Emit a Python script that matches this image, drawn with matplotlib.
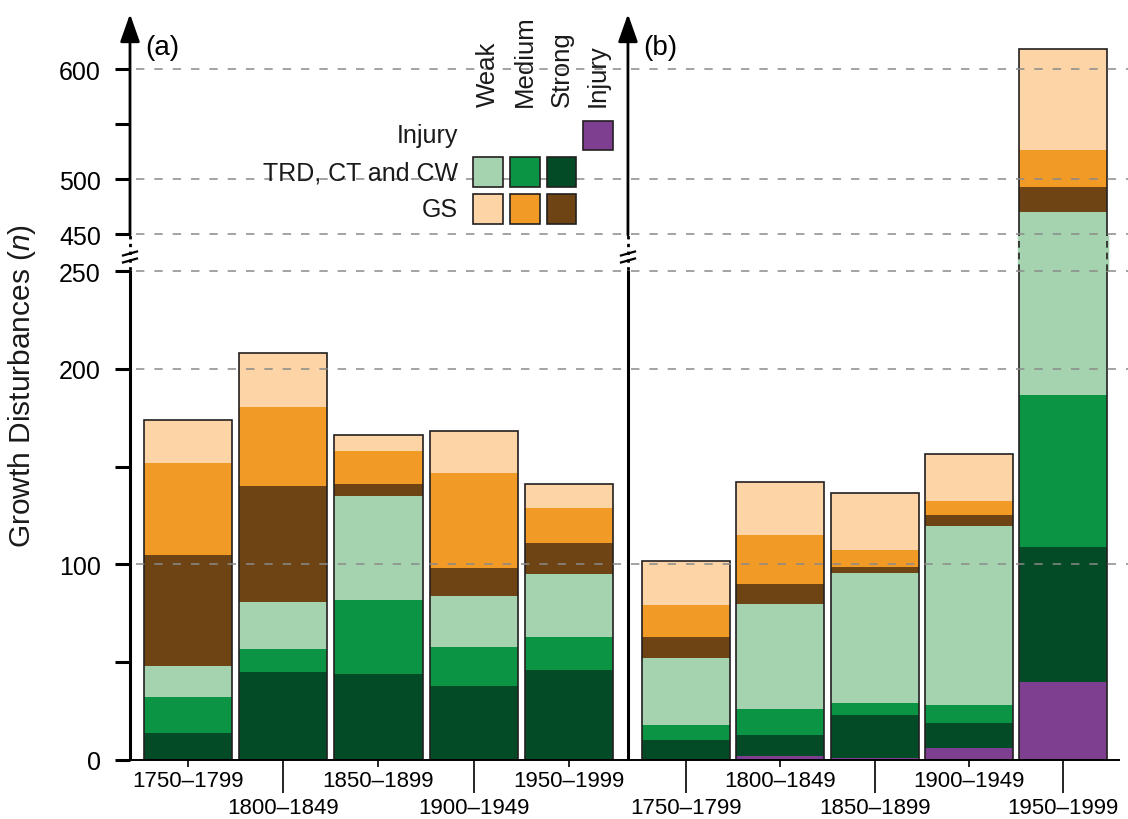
import numpy as np
import matplotlib
matplotlib.use('Agg')
import matplotlib.pyplot as plt
from matplotlib.patches import Rectangle

plt.rcParams['font.family'] = ['Liberation Sans', 'DejaVu Sans']
plt.rcParams['mathtext.fontset'] = 'custom'
plt.rcParams['mathtext.it'] = 'Liberation Sans:italic'
plt.rcParams['mathtext.rm'] = 'Liberation Sans'

# ---------------- data ----------------
periods = ['1750–1799', '1800–1849', '1850–1899', '1900–1949', '1950–1999']

# panel (a)
injury_a     = [0, 0, 0, 0, 0]
strong_trd_a = [14, 45, 44, 38, 46]
medium_trd_a = [18, 12, 38, 20, 17]
weak_trd_a   = [16, 24, 53, 26, 32]
strong_gs_a  = [57, 59, 6, 14, 16]
medium_gs_a  = [47, 40.5, 17, 49, 18]
weak_gs_a    = [22, 27.5, 8, 21, 12]

# panel (b)
injury_b     = [0, 2, 1, 6, 40]
strong_trd_b = [10, 11, 22, 13, 69]
medium_trd_b = [8, 13, 6, 9, 77.5]
weak_trd_b   = [34, 54, 66.5, 91.5, 284]
strong_gs_b  = [11, 10, 3, 6, 22]
medium_gs_b  = [16, 25, 9, 7, 33.5]
weak_gs_b    = [23, 27, 29, 24, 92.5]

col_injury = '#7e3f91'
col_trd = ['#a5d3b0', '#0a9443', '#034a27']   # weak, medium, strong
col_gs = ['#fcd4a6', '#f29a26', '#6e4414']    # weak, medium, strong
edge_col = '#231f20'
grid_col = '#8a8a8a'

yticks_major = [0, 100, 200, 250, 450, 500, 600]
yticks_minor = [50, 150, 550]

# ---------------- broken-axis scale ----------------
GAP = 18.9
K = 0.5627
V = [-1000.0, 0.0, 250.0, 450.0, 3000.0]
T = [-1000.0, 0.0, 250.0, 250.0 + GAP, 250.0 + GAP + (3000.0 - 450.0) * K]


def fwd(v):
    return np.interp(v, V, T)


def inv(t):
    return np.interp(t, T, V)


W, H = 1128, 820
fig = plt.figure(figsize=(W / 100, H / 100), dpi=100)
ax = fig.add_axes([130 / W, 1 - 761 / H, 1 - 130 / W, (761 - 15) / H])
ax.set_yscale('function', functions=(fwd, inv))
ax.set_ylim(0, 650)
xa_left = -0.609
ax.set_xlim(xa_left, 9.869)
for s in ax.spines.values():
    s.set_visible(False)

width = 0.924
pos_a = np.arange(5, dtype=float)
pos_b = 5.23 + np.arange(5) * 0.99
xb_axis = 4.619


def draw_panel(pos, injury, s_trd, m_trd, w_trd, s_gs, m_gs, w_gs):
    series = [(injury, col_injury), (s_trd, col_trd[2]), (m_trd, col_trd[1]),
              (w_trd, col_trd[0]), (s_gs, col_gs[2]), (m_gs, col_gs[1]),
              (w_gs, col_gs[0])]
    bottom = np.zeros(len(pos))
    segs = []
    for vals, c in series:
        vals = np.asarray(vals, dtype=float)
        ax.bar(pos, vals, width, bottom=bottom, color=c, edgecolor='none',
               linewidth=0, zorder=2)
        segs.append((bottom.copy(), bottom + vals, c))
        bottom = bottom + vals
    ax.bar(pos, bottom, width, fill=False, edgecolor=edge_col, linewidth=1.2,
           zorder=3)
    # dashed edges inside the axis break
    for i, (p, tot) in enumerate(zip(pos, bottom)):
        if tot > 450:
            cfill = None
            for b0, b1, c in segs:
                if b0[i] <= 350 < b1[i]:
                    cfill = c
            xs = [p - width / 2, p + width / 2]
            ax.vlines(xs, 253, 447, color=cfill, linewidth=2.4, zorder=3.5)
            ax.vlines(xs, 253, 447, color=edge_col, linewidth=1.2,
                      linestyles=(0, (4, 3)), zorder=3.6)
    return bottom


draw_panel(pos_a, injury_a, strong_trd_a, medium_trd_a, weak_trd_a,
           strong_gs_a, medium_gs_a, weak_gs_a)
draw_panel(pos_b, injury_b, strong_trd_b, medium_trd_b, weak_trd_b,
           strong_gs_b, medium_gs_b, weak_gs_b)

# dashed grid lines on top
for yv in [100, 200, 250, 450, 500, 600]:
    ax.plot([-0.55, 9.869], [yv, yv], color=grid_col, linewidth=1.1,
            dashes=(5.5, 6.5), zorder=4)

# baseline
ax.plot([xa_left, 9.785], [0, 0], color='k', linewidth=1.4, zorder=5,
        clip_on=False, solid_capstyle='butt')

# vertical axes with arrow and break
for xv in [xa_left, xb_axis]:
    ax.plot([xv, xv], [0, 255], color='k', linewidth=2.2, zorder=6,
            clip_on=False, solid_capstyle='butt')
    ax.plot([xv, xv], [255, 445], color='k', linewidth=2.0, zorder=6,
            clip_on=False, dashes=(1.2, 1.6))
    ax.annotate('', xy=(xv, 650), xytext=(xv, 445),
                arrowprops=dict(arrowstyle='-|>,head_length=0.85,head_width=0.3',
                                lw=2.0, color='k', mutation_scale=20,
                                shrinkA=0, shrinkB=0),
                annotation_clip=False, zorder=6)

# break marks "//" in pixel space
def px2fig(x, y):
    return x / W, 1 - y / H


for xp in [130, 628]:
    for dy in (-3.5, 3.5):
        x0, y0 = px2fig(xp - 7, 258 + dy + 2)
        x1, y1 = px2fig(xp + 7, 258 + dy - 2)
        fig.add_artist(plt.Line2D([x0, x1], [y0, y1], color='k', linewidth=1.6,
                                  transform=fig.transFigure, zorder=7))

# ticks
ax.set_yticks(yticks_major)
ax.set_yticklabels([str(v) for v in yticks_major])
ax.set_yticks(yticks_minor, minor=True)
ax.tick_params(axis='y', which='both', length=11, width=2.2, pad=10,
               labelsize=18, direction='out', colors='k')
ax.tick_params(axis='y', which='minor', labelleft=False)

row1_pos = [pos_a[0], pos_a[2], pos_a[4], pos_b[1], pos_b[3]]
row1_lab = [periods[0], periods[2], periods[4], periods[1], periods[3]]
row2_pos = [pos_a[1], pos_a[3], pos_b[0], pos_b[2], pos_b[4]]
row2_lab = [periods[1], periods[3], periods[0], periods[2], periods[4]]
ax.set_xticks(row1_pos, row1_lab)
ax.set_xticks(row2_pos, row2_lab, minor=True)
ax.tick_params(axis='x', which='major', length=5, width=1.2, pad=2,
               labelsize=16, color='k')
ax.tick_params(axis='x', which='minor', length=24, width=1.2, pad=3,
               labelsize=16, color='k')

# y label
fig.text(22 / W, 1 - 386 / H, 'Growth Disturbances ($n$)', rotation=90,
         ha='center', va='center', fontsize=21.5, color='#1a1a1a')

# panel labels
fig.text(145 / W, 1 - 48 / H, '(a)', ha='left', va='center', fontsize=20)
fig.text(643 / W, 1 - 48 / H, '(b)', ha='left', va='center', fontsize=20)

# legend (pixel-placed)
sq = 29.5
cols_x = [473.3, 510.0, 546.7, 583.3]
rows_y = [121.7, 158.3, 195.0]


def add_sq(x, y, c):
    fx, fy = px2fig(x, y + sq)
    fig.add_artist(Rectangle((fx, fy), sq / W, sq / H, facecolor=c,
                             edgecolor=edge_col, linewidth=1.2,
                             transform=fig.transFigure, zorder=8))


add_sq(cols_x[3], rows_y[0], col_injury)
for j in range(3):
    add_sq(cols_x[j], rows_y[1], col_trd[j])
    add_sq(cols_x[j], rows_y[2], col_gs[j])

for lab, yv in zip(['Injury', 'TRD, CT and CW', 'GS'], rows_y):
    fx, fy = px2fig(458, yv + sq / 2)
    fig.text(fx, fy, lab, ha='right', va='center', fontsize=18,
             color='#1a1a1a', zorder=8)

for lab, xv in zip(['Weak', 'Medium', 'Strong', 'Injury'], cols_x):
    fx, fy = px2fig(xv + sq / 2, 107)
    fig.text(fx, fy, lab, rotation=90, ha='center', va='bottom', fontsize=18.5,
             color='#1a1a1a', zorder=8)

fig.savefig('out.png', dpi=100, facecolor='white')
